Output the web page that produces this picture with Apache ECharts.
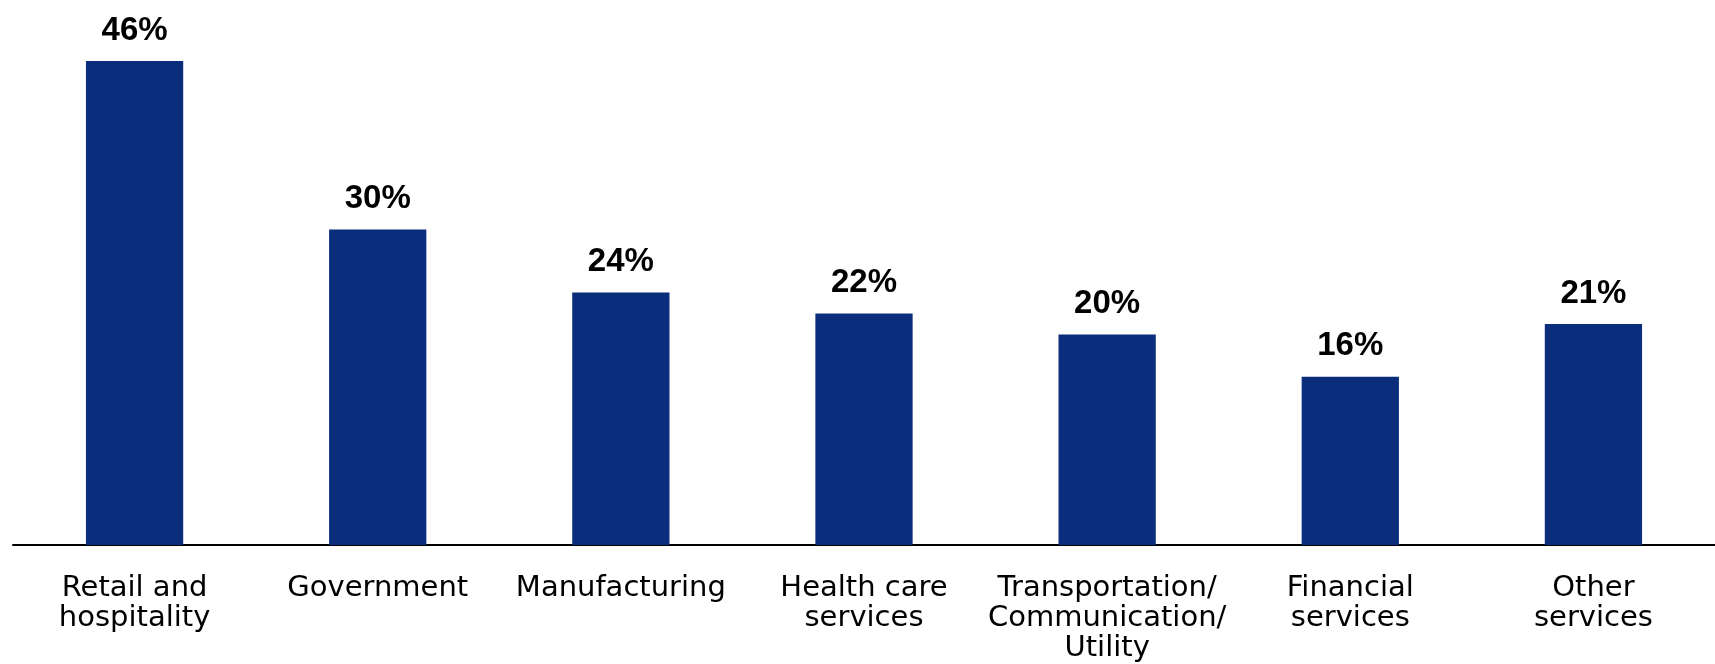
<!DOCTYPE html>
<html>
<head>
<meta charset="utf-8">
<script src="https://cdn.jsdelivr.net/npm/echarts@6/dist/echarts.min.js"></script>
<style>
  html, body { margin: 0; padding: 0; background: #ffffff; }
  #chart { width: 1715px; height: 664px; }
</style>
</head>
<body>
<div id="chart"></div>
<script>
// Share of workers by industry (percent)
const categories = [
  'Retail and\nhospitality',
  'Government',
  'Manufacturing',
  'Health care\nservices',
  'Transportation/\nCommunication/\nUtility',
  'Financial\nservices',
  'Other\nservices'
];
const values = [46, 30, 24, 22, 20, 16, 21];

const chart = echarts.init(document.getElementById('chart'), null, { renderer: 'canvas' });

chart.setOption({
  backgroundColor: '#ffffff',
  animation: false,
  grid: { left: 13, right: 0, top: 19, bottom: 119, containLabel: false },
  xAxis: {
    type: 'category',
    data: categories,
    axisLine: { show: true, lineStyle: { color: '#000000', width: 2 } },
    axisTick: { show: false },
    axisLabel: {
      interval: 0,
      color: '#000000',
      fontFamily: 'DejaVu Sans',
      fontSize: 29,
      lineHeight: 30,
      margin: 28,
      align: 'center'
    }
  },
  yAxis: {
    type: 'value',
    min: 0,
    max: 50,
    show: false,
    splitLine: { show: false }
  },
  series: [{
    type: 'bar',
    data: values,
    barWidth: '40%',
    itemStyle: { color: '#0a2d7c' },
    label: {
      show: true,
      position: 'top',
      distance: 14,
      formatter: '{c}%',
      color: '#000000',
      fontFamily: 'Liberation Sans',
      fontWeight: 'bold',
      fontSize: 33
    }
  }]
});
</script>
</body>
</html>
